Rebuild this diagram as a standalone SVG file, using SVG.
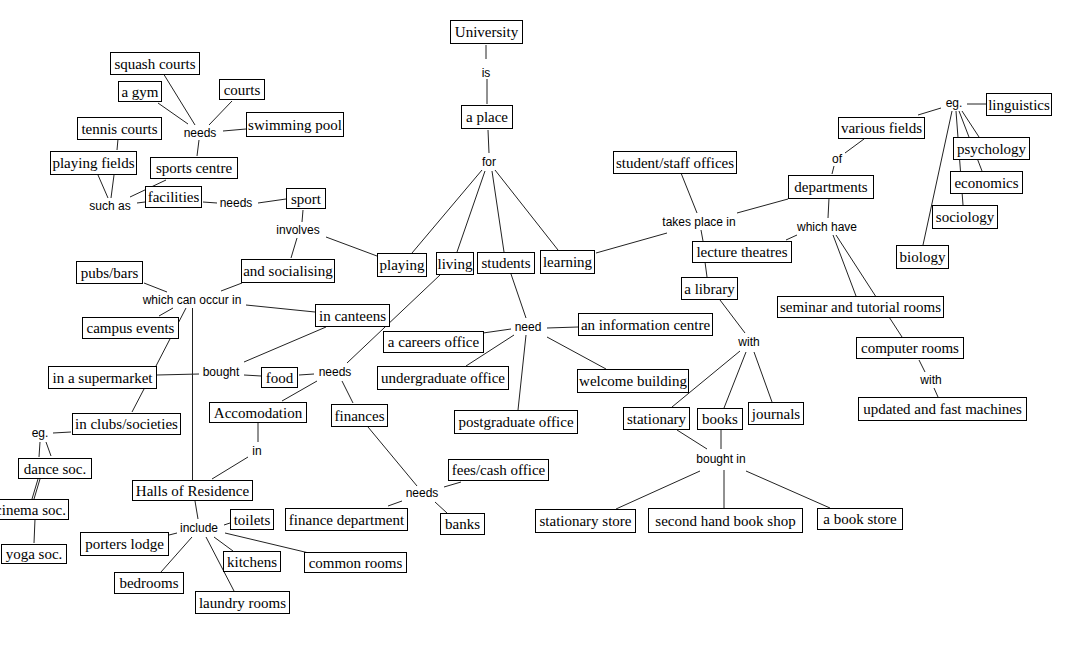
<svg xmlns="http://www.w3.org/2000/svg" width="1090" height="654" viewBox="0 0 1090 654">
<style>
.box rect{fill:#fff;stroke:#000;stroke-width:1}
.box text{font-family:"Liberation Serif","Times New Roman",serif;font-size:15px;text-anchor:middle;fill:#000}
.lbl text{font-family:"Liberation Sans",Arial,sans-serif;font-size:12px;text-anchor:middle;fill:#000}
#connectors line{stroke:#222;stroke-width:1}
</style>
<rect x="0" y="0" width="1090" height="654" fill="#fff"/>
<g id="connectors">
<line x1="163" y1="73" x2="195" y2="125"/>
<line x1="158" y1="103" x2="188" y2="124"/>
<line x1="232" y1="101" x2="209" y2="125"/>
<line x1="246" y1="129" x2="223" y2="131"/>
<line x1="199" y1="140" x2="197" y2="156"/>
<line x1="118" y1="139" x2="117" y2="150"/>
<line x1="98" y1="175" x2="108" y2="198"/>
<line x1="114" y1="175" x2="111" y2="198"/>
<line x1="166" y1="180" x2="130" y2="197"/>
<line x1="145" y1="202" x2="137" y2="203"/>
<line x1="203" y1="202" x2="217" y2="203"/>
<line x1="258" y1="203" x2="286" y2="199"/>
<line x1="303" y1="210" x2="302" y2="222"/>
<line x1="297" y1="238" x2="291" y2="258"/>
<line x1="326" y1="237" x2="377" y2="256"/>
<line x1="486" y1="45" x2="486" y2="59"/>
<line x1="487" y1="79" x2="487" y2="104"/>
<line x1="488" y1="130" x2="489" y2="153"/>
<line x1="482" y1="170" x2="412" y2="253"/>
<line x1="485" y1="171" x2="457" y2="252"/>
<line x1="492" y1="171" x2="504" y2="252"/>
<line x1="495" y1="170" x2="558" y2="250"/>
<line x1="144" y1="283" x2="167" y2="292"/>
<line x1="242" y1="283" x2="221" y2="291"/>
<line x1="246" y1="305" x2="315" y2="312"/>
<line x1="173" y1="308" x2="159" y2="316"/>
<line x1="186" y1="308" x2="156" y2="366"/>
<line x1="192.5" y1="308" x2="192.5" y2="480"/>
<line x1="157" y1="375" x2="199" y2="374"/>
<line x1="244" y1="375" x2="261" y2="376"/>
<line x1="299" y1="375" x2="314" y2="374"/>
<line x1="317" y1="381" x2="282" y2="401"/>
<line x1="342" y1="381" x2="353" y2="403"/>
<line x1="440" y1="275" x2="347" y2="363"/>
<line x1="244" y1="362" x2="326" y2="327"/>
<line x1="144" y1="389" x2="132" y2="412"/>
<line x1="71" y1="432" x2="53" y2="433"/>
<line x1="258" y1="423" x2="258" y2="442"/>
<line x1="248" y1="457" x2="212" y2="479"/>
<line x1="40" y1="442" x2="39" y2="457"/>
<line x1="46" y1="442" x2="51" y2="456"/>
<line x1="38" y1="479" x2="32" y2="499"/>
<line x1="40" y1="479" x2="34" y2="499"/>
<line x1="35" y1="519" x2="34" y2="543"/>
<line x1="195" y1="501" x2="198" y2="519"/>
<line x1="224" y1="525" x2="230" y2="523"/>
<line x1="177" y1="533" x2="169" y2="535"/>
<line x1="214" y1="537" x2="233" y2="551"/>
<line x1="225" y1="533" x2="309" y2="553"/>
<line x1="192" y1="537" x2="161" y2="572"/>
<line x1="206" y1="537" x2="234" y2="591"/>
<line x1="368" y1="427" x2="417" y2="486"/>
<line x1="444" y1="487" x2="461" y2="482"/>
<line x1="402" y1="501" x2="388" y2="506"/>
<line x1="435" y1="502" x2="447" y2="513"/>
<line x1="511" y1="274" x2="526" y2="318"/>
<line x1="547" y1="328" x2="578" y2="327"/>
<line x1="511" y1="329" x2="483" y2="333"/>
<line x1="514" y1="335" x2="466" y2="366"/>
<line x1="526" y1="335" x2="518" y2="410"/>
<line x1="547" y1="337" x2="606" y2="369"/>
<line x1="596" y1="253" x2="667" y2="233"/>
<line x1="681" y1="173" x2="697" y2="213"/>
<line x1="737" y1="213" x2="788" y2="199"/>
<line x1="701" y1="230" x2="703" y2="241"/>
<line x1="705" y1="262" x2="707" y2="277"/>
<line x1="720" y1="300" x2="745" y2="333"/>
<line x1="740" y1="351" x2="672" y2="407"/>
<line x1="746" y1="352" x2="724" y2="408"/>
<line x1="754" y1="352" x2="772" y2="402"/>
<line x1="677" y1="430" x2="707" y2="449"/>
<line x1="721" y1="429" x2="721" y2="449"/>
<line x1="700" y1="471" x2="616" y2="509"/>
<line x1="724" y1="470" x2="724" y2="508"/>
<line x1="746" y1="471" x2="830" y2="508"/>
<line x1="829" y1="198" x2="828" y2="218"/>
<line x1="797" y1="235" x2="786" y2="240"/>
<line x1="833" y1="235" x2="856" y2="296"/>
<line x1="836" y1="235" x2="902" y2="337"/>
<line x1="919" y1="360" x2="925" y2="372"/>
<line x1="934" y1="388" x2="938" y2="397"/>
<line x1="832" y1="174" x2="834" y2="166"/>
<line x1="845" y1="153" x2="864" y2="139"/>
<line x1="918" y1="115" x2="941" y2="108"/>
<line x1="967" y1="104" x2="986" y2="104"/>
<line x1="952" y1="111" x2="923" y2="245"/>
<line x1="956" y1="111" x2="963" y2="205"/>
<line x1="959" y1="111" x2="982" y2="171"/>
<line x1="962" y1="111" x2="979" y2="137"/>
</g>
<g id="n-university" class="box"><rect x="450.5" y="20.5" width="72" height="23"/><text x="486.5" y="37">University</text></g>
<g id="n-aplace" class="box"><rect x="461.5" y="105.5" width="51" height="23"/><text x="487" y="122">a place</text></g>
<g id="n-squash" class="box"><rect x="110.5" y="52.5" width="89" height="22"/><text x="155" y="68.5">squash courts</text></g>
<g id="n-gym" class="box"><rect x="118.5" y="81.5" width="43" height="20"/><text x="140" y="96.5">a gym</text></g>
<g id="n-courts" class="box"><rect x="219.5" y="79.5" width="45" height="20"/><text x="242" y="94.5">courts</text></g>
<g id="n-swim" class="box"><rect x="246.5" y="112.5" width="97" height="24"/><text x="295" y="129.5">swimming pool</text></g>
<g id="n-tennis" class="box"><rect x="77.5" y="117.5" width="84" height="22"/><text x="119.5" y="133.5">tennis courts</text></g>
<g id="n-pfields" class="box"><rect x="50.5" y="151.5" width="86" height="23"/><text x="93.5" y="168">playing fields</text></g>
<g id="n-sportsc" class="box"><rect x="150.5" y="157.5" width="87" height="21"/><text x="194" y="173">sports centre</text></g>
<g id="n-facilities" class="box"><rect x="145.5" y="186.5" width="56" height="21"/><text x="173.5" y="202">facilities</text></g>
<g id="n-sport" class="box"><rect x="286.5" y="188.5" width="39" height="20"/><text x="306" y="203.5">sport</text></g>
<g id="n-pubs" class="box"><rect x="76.5" y="261.5" width="66" height="22"/><text x="109.5" y="277.5">pubs/bars</text></g>
<g id="n-socialising" class="box"><rect x="241.5" y="259.5" width="93" height="23"/><text x="288" y="276">and socialising</text></g>
<g id="n-campus" class="box"><rect x="82.5" y="317.5" width="96" height="21"/><text x="130.5" y="333">campus events</text></g>
<g id="n-canteens" class="box"><rect x="315.5" y="304.5" width="74" height="22"/><text x="352.5" y="320.5">in canteens</text></g>
<g id="n-supermarket" class="box"><rect x="48.5" y="366.5" width="108" height="22"/><text x="102.5" y="382.5">in a supermarket</text></g>
<g id="n-food" class="box"><rect x="261.5" y="367.5" width="36" height="20"/><text x="279.5" y="382.5">food</text></g>
<g id="n-accom" class="box"><rect x="209.5" y="402.5" width="97" height="20"/><text x="258" y="417.5">Accomodation</text></g>
<g id="n-finances" class="box"><rect x="331.5" y="404.5" width="56" height="22"/><text x="359.5" y="420.5">finances</text></g>
<g id="n-clubs" class="box"><rect x="72.5" y="413.5" width="108" height="21"/><text x="126.5" y="429">in clubs/societies</text></g>
<g id="n-dance" class="box"><rect x="18.5" y="458.5" width="73" height="20"/><text x="55" y="473.5">dance soc.</text></g>
<g id="n-cinema" class="box"><rect x="-7.5" y="499.5" width="76" height="20"/><text x="30.5" y="514.5">cinema soc.</text></g>
<g id="n-yoga" class="box"><rect x="1.5" y="544.5" width="65" height="19"/><text x="34" y="559">yoga soc.</text></g>
<g id="n-halls" class="box"><rect x="132.5" y="480.5" width="120" height="20"/><text x="192.5" y="495.5">Halls of Residence</text></g>
<g id="n-toilets" class="box"><rect x="230.5" y="509.5" width="43" height="20"/><text x="252" y="524.5">toilets</text></g>
<g id="n-porters" class="box"><rect x="80.5" y="532.5" width="88" height="23"/><text x="124.5" y="549">porters lodge</text></g>
<g id="n-kitchens" class="box"><rect x="223.5" y="551.5" width="57" height="20"/><text x="252" y="566.5">kitchens</text></g>
<g id="n-common" class="box"><rect x="304.5" y="552.5" width="102" height="20"/><text x="355.5" y="567.5">common rooms</text></g>
<g id="n-bedrooms" class="box"><rect x="114.5" y="572.5" width="69" height="21"/><text x="149" y="588">bedrooms</text></g>
<g id="n-laundry" class="box"><rect x="195.5" y="591.5" width="94" height="22"/><text x="242.5" y="607.5">laundry rooms</text></g>
<g id="n-financedept" class="box"><rect x="285.5" y="508.5" width="122" height="22"/><text x="346.5" y="524.5">finance department</text></g>
<g id="n-fees" class="box"><rect x="448.5" y="459.5" width="100" height="21"/><text x="498.5" y="475">fees/cash office</text></g>
<g id="n-banks" class="box"><rect x="440.5" y="513.5" width="44" height="21"/><text x="462.5" y="529">banks</text></g>
<g id="n-playing" class="box"><rect x="377.5" y="253.5" width="49" height="23"/><text x="402" y="270">playing</text></g>
<g id="n-living" class="box"><rect x="436.5" y="252.5" width="37" height="22"/><text x="455" y="268.5">living</text></g>
<g id="n-students" class="box"><rect x="477.5" y="252.5" width="57" height="21"/><text x="506" y="268">students</text></g>
<g id="n-learning" class="box"><rect x="540.5" y="250.5" width="54" height="23"/><text x="567.5" y="267">learning</text></g>
<g id="n-careers" class="box"><rect x="383.5" y="331.5" width="100" height="21"/><text x="433.5" y="347">a careers office</text></g>
<g id="n-undergrad" class="box"><rect x="377.5" y="366.5" width="131" height="23"/><text x="443" y="383">undergraduate office</text></g>
<g id="n-postgrad" class="box"><rect x="454.5" y="410.5" width="123" height="23"/><text x="516" y="427">postgraduate office</text></g>
<g id="n-info" class="box"><rect x="578.5" y="313.5" width="134" height="22"/><text x="645.5" y="329.5">an information centre</text></g>
<g id="n-welcome" class="box"><rect x="577.5" y="369.5" width="111" height="23"/><text x="633" y="386">welcome building</text></g>
<g id="n-offices" class="box"><rect x="613.5" y="151.5" width="123" height="22"/><text x="675" y="167.5">student/staff offices</text></g>
<g id="n-departments" class="box"><rect x="788.5" y="175.5" width="85" height="23"/><text x="831" y="192">departments</text></g>
<g id="n-lecture" class="box"><rect x="692.5" y="241.5" width="99" height="21"/><text x="742" y="257">lecture theatres</text></g>
<g id="n-library" class="box"><rect x="681.5" y="277.5" width="56" height="22"/><text x="709.5" y="293.5">a library</text></g>
<g id="n-stationary" class="box"><rect x="623.5" y="407.5" width="66" height="22"/><text x="656.5" y="423.5">stationary</text></g>
<g id="n-books" class="box"><rect x="697.5" y="408.5" width="45" height="21"/><text x="720" y="424">books</text></g>
<g id="n-journals" class="box"><rect x="748.5" y="402.5" width="55" height="22"/><text x="776" y="418.5">journals</text></g>
<g id="n-statstore" class="box"><rect x="535.5" y="509.5" width="100" height="23"/><text x="585.5" y="526">stationary store</text></g>
<g id="n-secondhand" class="box"><rect x="648.5" y="508.5" width="154" height="24"/><text x="725.5" y="525.5">second hand book shop</text></g>
<g id="n-bookstore" class="box"><rect x="817.5" y="508.5" width="85" height="21"/><text x="860" y="524">a book store</text></g>
<g id="n-various" class="box"><rect x="838.5" y="117.5" width="86" height="21"/><text x="881.5" y="133">various fields</text></g>
<g id="n-linguistics" class="box"><rect x="986.5" y="93.5" width="65" height="22"/><text x="1019" y="109.5">linguistics</text></g>
<g id="n-psychology" class="box"><rect x="953.5" y="137.5" width="76" height="22"/><text x="991.5" y="153.5">psychology</text></g>
<g id="n-economics" class="box"><rect x="950.5" y="171.5" width="72" height="22"/><text x="986.5" y="187.5">economics</text></g>
<g id="n-sociology" class="box"><rect x="932.5" y="205.5" width="65" height="23"/><text x="965" y="222">sociology</text></g>
<g id="n-biology" class="box"><rect x="896.5" y="245.5" width="52" height="23"/><text x="922.5" y="262">biology</text></g>
<g id="n-seminar" class="box"><rect x="777.5" y="296.5" width="166" height="21"/><text x="860.5" y="312">seminar and tutorial rooms</text></g>
<g id="n-computer" class="box"><rect x="856.5" y="337.5" width="107" height="21"/><text x="910" y="353">computer rooms</text></g>
<g id="n-machines" class="box"><rect x="858.5" y="397.5" width="168" height="23"/><text x="942.5" y="414">updated and fast machines</text></g>
<g id="l-is" class="lbl"><text x="486" y="77">is</text></g>
<g id="l-for" class="lbl"><text x="489" y="166">for</text></g>
<g id="l-needs1" class="lbl"><text x="200" y="137">needs</text></g>
<g id="l-suchas" class="lbl"><text x="110" y="210">such as</text></g>
<g id="l-needs2" class="lbl"><text x="236" y="207">needs</text></g>
<g id="l-involves" class="lbl"><text x="298" y="234">involves</text></g>
<g id="l-occur" class="lbl"><text x="192" y="304">which can occur in</text></g>
<g id="l-bought" class="lbl"><text x="221" y="376">bought</text></g>
<g id="l-needs3" class="lbl"><text x="335" y="376">needs</text></g>
<g id="l-eg1" class="lbl"><text x="40" y="437">eg.</text></g>
<g id="l-in" class="lbl"><text x="257" y="455">in</text></g>
<g id="l-include" class="lbl"><text x="199" y="532">include</text></g>
<g id="l-need" class="lbl"><text x="528" y="331">need</text></g>
<g id="l-needs4" class="lbl"><text x="422" y="497">needs</text></g>
<g id="l-takes" class="lbl"><text x="699" y="226">takes place in</text></g>
<g id="l-with1" class="lbl"><text x="749" y="346">with</text></g>
<g id="l-boughtin" class="lbl"><text x="721" y="463">bought in</text></g>
<g id="l-whichhave" class="lbl"><text x="827" y="231">which have</text></g>
<g id="l-of" class="lbl"><text x="837" y="163">of</text></g>
<g id="l-eg2" class="lbl"><text x="954" y="107">eg.</text></g>
<g id="l-with2" class="lbl"><text x="931" y="384">with</text></g>
</svg>
